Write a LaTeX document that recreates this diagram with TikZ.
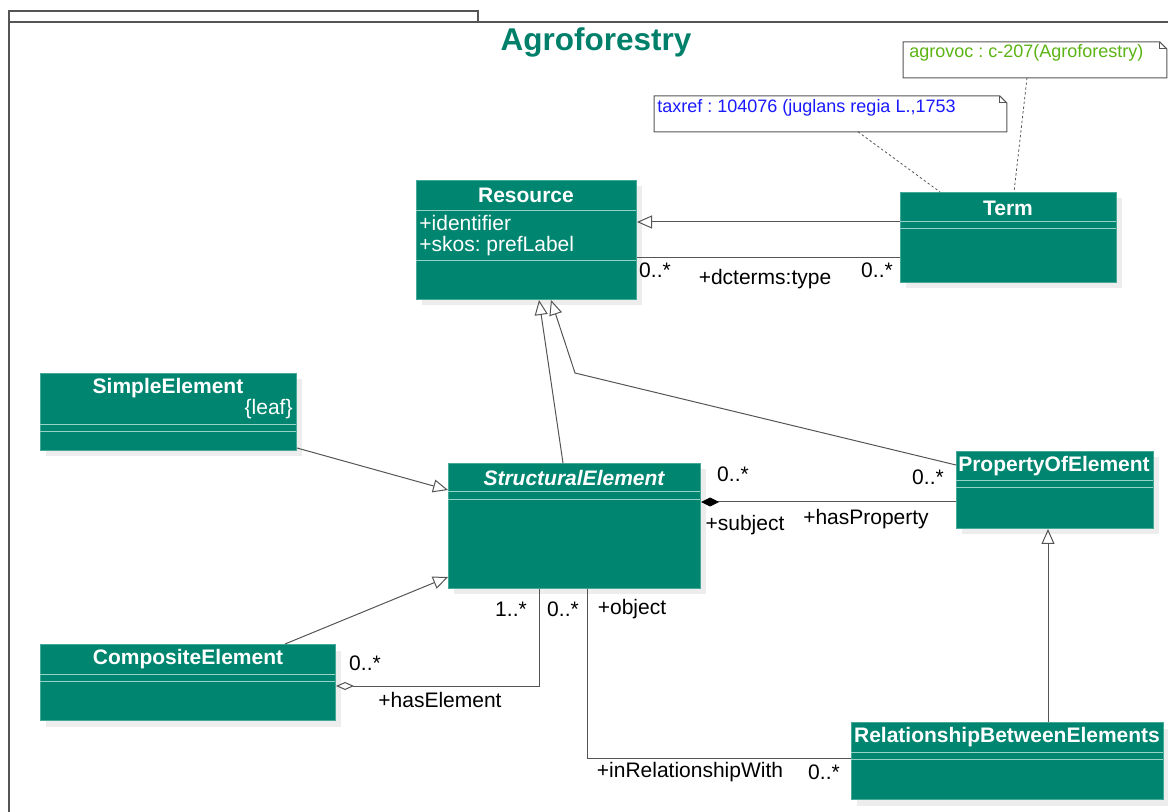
\documentclass[tikz,border=0pt]{standalone}
\usepackage{fontspec}
\setmainfont{Liberation Sans}
\usepackage{tikz,xcolor}
\usetikzlibrary{arrows.meta,shadows}
\frenchspacing

\definecolor{umlfill}{RGB}{0,134,112}
\definecolor{umlborder}{RGB}{70,168,150}
\definecolor{umldiv}{RGB}{150,210,198}
\definecolor{titleteal}{RGB}{0,128,106}
\definecolor{linegray}{RGB}{85,85,85}
\definecolor{noteblue}{RGB}{26,26,255}
\definecolor{notegreen}{RGB}{92,180,20}

\tikzset{
  umlclass/.style={draw=umlborder, fill=umlfill, anchor=north west, inner sep=0pt, line width=0.5pt,
    drop shadow={shadow xshift=2.5pt, shadow yshift=-3pt, fill=black!7, opacity=1}},
  clsname/.style={text=white, font=\fontsize{10.5}{12.6}\selectfont\bfseries, inner sep=0pt},
  attr/.style={text=white, font=\fontsize{10.5}{12.6}\selectfont, inner sep=0pt, anchor=west},
  divider/.style={draw=umldiv, line width=0.5pt},
  lbl/.style={font=\fontsize{10.5}{12.6}\selectfont, inner sep=0pt},
  notebox/.style={anchor=north west, inner sep=0pt, fill=white},
  notetext/.style={font=\fontsize{9}{11}\selectfont, inner sep=0pt, anchor=west},
  noteline/.style={draw=linegray, line width=0.5pt},
  notelink/.style={draw=linegray, line width=0.4pt, dash pattern=on 1.2pt off 1.2pt},
  assoc/.style={draw=linegray, line width=0.5pt},
  gen/.style={assoc, -{Triangle[open, length=7.5pt, width=6.5pt]}},
  comp/.style={assoc, {Diamond[length=9pt, width=4.5pt, color=black]}-},
  aggr/.style={assoc, {Diamond[open, length=9pt, width=4pt]}-},
}

\begin{document}
\begin{tikzpicture}[x=0.5pt, y=-0.5pt]

\useasboundingbox (0,0) rectangle (1168,812);

% package frame
\draw[linegray, line width=0.6pt] (9,812) -- (9,11) -- (478,11) -- (478,22);
\draw[linegray, line width=0.8pt] (9,22) -- (1168,22);
\node[text=titleteal, font=\fontsize{15.75}{18}\selectfont\bfseries, inner sep=0pt] (title) at (596,42) {Agroforestry};

% classes
\node[umlclass, minimum width=110pt, minimum height=59.5pt] (resource) at (416,180) {};
\node[clsname] (resourcename) at (526,195) {Resource};
\node[attr] (resourceid) at (419,223) {+identifier};
\node[attr] (resourcelabel) at (419,246) {+skos: prefLabel};
\draw[divider] (416,211) -- (636,211);
\draw[divider] (416,261) -- (636,261);

\node[umlclass, minimum width=108pt, minimum height=45pt] (term) at (900,192) {};
\node[clsname] (termname) at (1008,208) {Term};
\draw[divider] (900,222) -- (1116,222);
\draw[divider] (900,229) -- (1116,229);

\node[umlclass, minimum width=128pt, minimum height=38.5pt] (simple) at (40,373) {};
\node[clsname] (simplename) at (168,388) {SimpleElement};
\node[attr, anchor=east] (simpleleaf) at (293,409) {\{leaf\}};
\draw[divider] (40,425) -- (296,425);
\draw[divider] (40,432) -- (296,432);

\node[umlclass, minimum width=126pt, minimum height=62.5pt] (structural) at (448,463) {};
\node[clsname, font=\fontsize{10.5}{12.6}\selectfont\bfseries\itshape] (structuralname) at (574,478) {StructuralElement};
\draw[divider] (448,492) -- (700,492);
\draw[divider] (448,500) -- (700,500);

\node[umlclass, minimum width=98.5pt, minimum height=38.5pt] (property) at (956,451) {};
\node[clsname] (propertyname) at (1054,466) {PropertyOfElement};
\draw[divider] (956,481) -- (1153,481);
\draw[divider] (956,488) -- (1153,488);

\node[umlclass, minimum width=147.5pt, minimum height=38pt] (composite) at (40,644) {};
\node[clsname] (compositename) at (188,659) {CompositeElement};
\draw[divider] (40,674) -- (335,674);
\draw[divider] (40,681) -- (335,681);

\node[umlclass, minimum width=156pt, minimum height=38.5pt] (relationship) at (851,722) {};
\node[clsname] (relationshipname) at (1007,737) {RelationshipBetweenElements};
\draw[divider] (851,752) -- (1163,752);
\draw[divider] (851,759) -- (1163,759);

% notes
\node[notebox, minimum width=176pt, minimum height=17.5pt] (taxref) at (654,96) {};
\draw[noteline] (taxref.north west) -- ([xshift=-3.5pt]taxref.north east) -- ([yshift=-3.5pt]taxref.north east) -- (taxref.south east) -- (taxref.south west) -- cycle;
\draw[noteline] ([xshift=-3.5pt]taxref.north east) -- ([xshift=-3.5pt, yshift=-3.5pt]taxref.north east) -- ([yshift=-3.5pt]taxref.north east);
\node[notetext, text=noteblue] (taxreftext) at (657,108) {taxref : 104076 (juglans regia L.,1753};

\node[notebox, minimum width=131.5pt, minimum height=17.5pt] (agrovoc) at (903,42) {};
\draw[noteline] (agrovoc.north west) -- ([xshift=-3.5pt]agrovoc.north east) -- ([yshift=-3.5pt]agrovoc.north east) -- (agrovoc.south east) -- (agrovoc.south west) -- cycle;
\draw[noteline] ([xshift=-3.5pt]agrovoc.north east) -- ([xshift=-3.5pt, yshift=-3.5pt]agrovoc.north east) -- ([yshift=-3.5pt]agrovoc.north east);
\node[notetext, text=notegreen] (agrovoctext) at (909,53) {agrovoc : c-207(Agroforestry)};

\draw[notelink] (taxref.south -| 858,0) -- (term.north -| 940,0);
\draw[notelink] (agrovoc.south -| 1027,0) -- (term.north -| 1014,0);

% generalizations
\draw[gen] (term.west |- 0,222) -- (resource.east |- 0,222);
\draw[gen] (structural.north -| 563,0) -- (resource.south -| 539,0);
\draw[gen] (property.west |- 0,465) -- (575,373) -- (resource.south -| 551,0);
\draw[gen] (simple.east |- 0,448) -- (structural.west |- 0,490);
\draw[gen] (composite.north -| 285,0) -- (structural.west |- 0,577);
\draw[gen] (relationship.north -| 1048,0) -- (property.south -| 1048,0);

% associations
\draw[assoc] (resource.east |- 0,258) -- (term.west |- 0,258);
\node[lbl] (typefrom) at (655,270) {0..*};
\node[lbl] (typename) at (765,279) {+dcterms:type};
\node[lbl] (typeto) at (877,270) {0..*};

\draw[comp] (structural.east |- 0,502) -- (property.west |- 0,502);
\node[lbl] (propfrom) at (733,474) {0..*};
\node[lbl] (subject) at (745,525) {+subject};
\node[lbl] (hasprop) at (866,519) {+hasProperty};
\node[lbl] (propto) at (928,477) {0..*};

\draw[aggr] (composite.east |- 0,686) -| (structural.south -| 539,0);
\node[lbl] (elemto) at (511,609) {1..*};
\node[lbl] (elemfrom) at (365,663) {0..*};
\node[lbl] (haselem) at (440,700) {+hasElement};

\draw[assoc] (structural.south -| 587,0) |- (relationship.west |- 0,758);
\node[lbl] (relfrom) at (563,609) {0..*};
\node[lbl] (object) at (632,609) {+object};
\node[lbl] (inrel) at (690,772) {+inRelationshipWith};
\node[lbl] (relto) at (824,772) {0..*};

\end{tikzpicture}
\end{document}
